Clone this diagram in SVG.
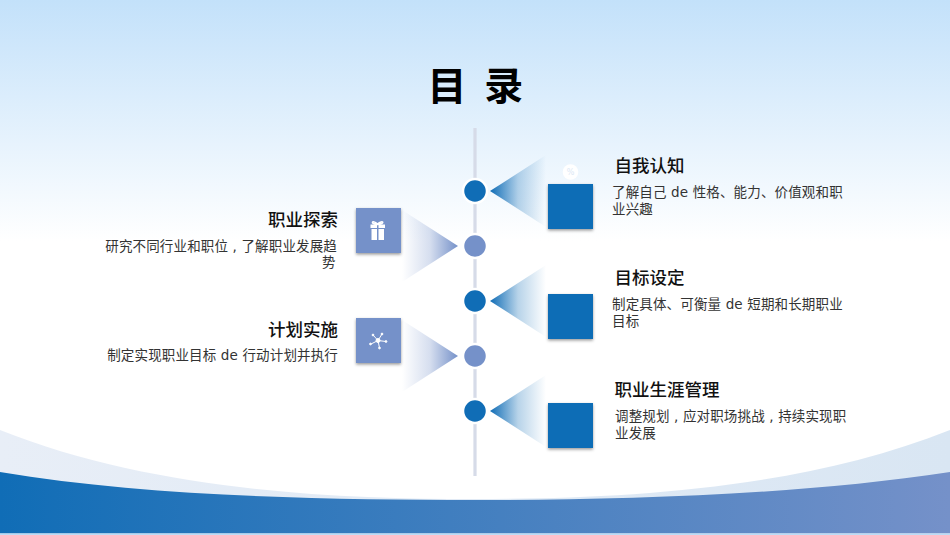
<svg xmlns="http://www.w3.org/2000/svg" width="950" height="535" viewBox="0 0 950 535">
<style>
text{font-family:"DejaVu Sans","Noto Sans CJK SC",sans-serif;fill:#111}
.h{font-size:17.5px;font-weight:500;font-family:"Noto Sans CJK SC",sans-serif}
.b{font-size:13.5px;fill:#333;letter-spacing:.15px}
.l{text-anchor:end}
.ax{stroke:#d6dbe8;stroke-width:3.2}
.c1{fill:#106db6;stroke:#fff;stroke-width:2.5}
.c2{fill:#7591c9;stroke:#fff;stroke-width:2.5}
.s1{fill:#106db6;filter:url(#sh)}
.s2{fill:#7591c9;filter:url(#sh)}
.tr{fill:url(#gr)}
.tl{fill:url(#gl)}
</style>
<defs>
<linearGradient id="bg" x1="0" y1="0" x2="0" y2="1"><stop offset="0" stop-color="#c3e1fa"/><stop offset="0.45" stop-color="#ffffff"/></linearGradient>
<linearGradient id="wave" x1="0" y1="0" x2="1" y2="0"><stop offset="0" stop-color="#106db6"/><stop offset="1" stop-color="#7591c9"/></linearGradient>
<linearGradient id="lw" x1="0" y1="0" x2="1" y2="0"><stop offset="0" stop-color="#e8eef7"/><stop offset="1" stop-color="#d9e6f3"/></linearGradient>
<linearGradient id="gr" x1="0" y1="0" x2="1" y2="0"><stop offset="0" stop-color="#106db6"/><stop offset="0.5" stop-color="#106db6" stop-opacity="0.3"/><stop offset="1" stop-color="#106db6" stop-opacity="0"/></linearGradient>
<linearGradient id="gl" x1="1" y1="0" x2="0" y2="0"><stop offset="0" stop-color="#7591c9"/><stop offset="0.5" stop-color="#7591c9" stop-opacity="0.3"/><stop offset="1" stop-color="#7591c9" stop-opacity="0"/></linearGradient>
<filter id="sh" x="-20%" y="-20%" width="140%" height="140%"><feDropShadow dx="0" dy="1.5" stdDeviation="1.5" flood-color="#000" flood-opacity="0.4"/></filter>
</defs>
<rect width="950" height="535" fill="url(#bg)"/>
<path d="M0 430C150 490 330 499 475 499C620 499 800 490 950 430V520H0Z" fill="url(#lw)"/>
<path d="M0 472C150 497 330 500 475 500C620 500 800 495 950 472V533.500H0Z" fill="url(#wave)"/>
<rect y="533.500" width="950" height="1.500" fill="#bcdcf6"/>
<text x="427.500" y="100" style="font-size:39px;font-weight:700;fill:#000;font-family:'Noto Sans CJK SC',sans-serif;word-spacing:3px;letter-spacing:3px" xml:space="preserve">目 录</text>
<g id="connectors">
<line class="ax" x1="475" y1="128" x2="475" y2="476"/>
<path class="tr" d="M490 191L546 155V227Z"/>
<path class="tr" d="M490 301L546 265V337Z"/>
<path class="tr" d="M490 411L546 375V447Z"/>
<path class="tl" d="M458 246L402 210V282Z"/>
<path class="tl" d="M458 356L402 320V392Z"/>
</g>
<g id="node-1">
<circle class="c1" cx="475" cy="191" r="12"/>
<rect class="s1" x="548" y="184" width="45" height="45"/>
<circle cx="570.500" cy="172" r="7.800" fill="#fff"/>
<text x="570.500" y="175" style="font-size:8px;fill:#dce8f4;text-anchor:middle">%</text>
<text class="h" x="614.500" y="172">自我认知</text>
<text class="b" x="612" y="197">了解自己 de 性格、能力、价值观和职</text>
<text class="b" x="612" y="214">业兴趣</text>
</g>
<g id="node-2">
<circle class="c2" cx="475" cy="246" r="12"/>
<rect class="s2" x="356" y="208" width="45" height="45"/>
<path d="M370.500 224.500h6.500v3.500h-6.500ZM378.500 224.500h6.500v3.500h-6.500ZM371.500 229h5.500v11h-5.500ZM378.500 229h5.500v11h-5.500Z" fill="#fff"/>
<path d="M377.500 224C372 219 369.500 224 377.500 224.500C386 224 383 219 377.500 224Z" fill="none" stroke="#fff" stroke-width="1.500"/>
<text class="h l" x="338" y="226">职业探索</text>
<text class="b l" x="337" y="251">研究不同行业和职位 , 了解职业发展趋</text>
<text class="b" x="322" y="267">势</text>
</g>
<g id="node-3">
<circle class="c1" cx="475" cy="301" r="12"/>
<rect class="s1" x="548" y="294" width="45" height="45"/>
<text class="h" x="614.500" y="284">目标设定</text>
<text class="b" x="612" y="309">制定具体、可衡量 de 短期和长期职业</text>
<text class="b" x="612" y="326">目标</text>
</g>
<g id="node-4">
<circle class="c2" cx="475" cy="356" r="12"/>
<rect class="s2" x="356" y="318" width="45" height="45"/>
<g stroke="#fff" stroke-width="1" fill="#fff">
<path d="M378 340.500L371 344M378 340.500L373 335M378 340.500L382 334M378 340.500L386 341.500M378 340.500L379.500 348" fill="none"/>
<circle cx="378" cy="340.500" r="2"/><circle cx="370.500" cy="344" r="0.900"/><circle cx="373" cy="335" r="0.900"/><circle cx="382" cy="334" r="0.900"/><circle cx="386" cy="341.500" r="0.900"/><circle cx="379.500" cy="348" r="0.900"/>
</g>
<text class="h l" x="338" y="336">计划实施</text>
<text class="b l" x="338" y="360">制定实现职业目标 de 行动计划并执行</text>
</g>
<g id="node-5">
<circle class="c1" cx="475" cy="411" r="12"/>
<rect class="s1" x="548" y="403" width="45" height="45"/>
<text class="h" x="614.500" y="396">职业生涯管理</text>
<text class="b" x="615" y="421">调整规划 , 应对职场挑战 , 持续实现职</text>
<text class="b" x="615" y="438">业发展</text>
</g>
</svg>
